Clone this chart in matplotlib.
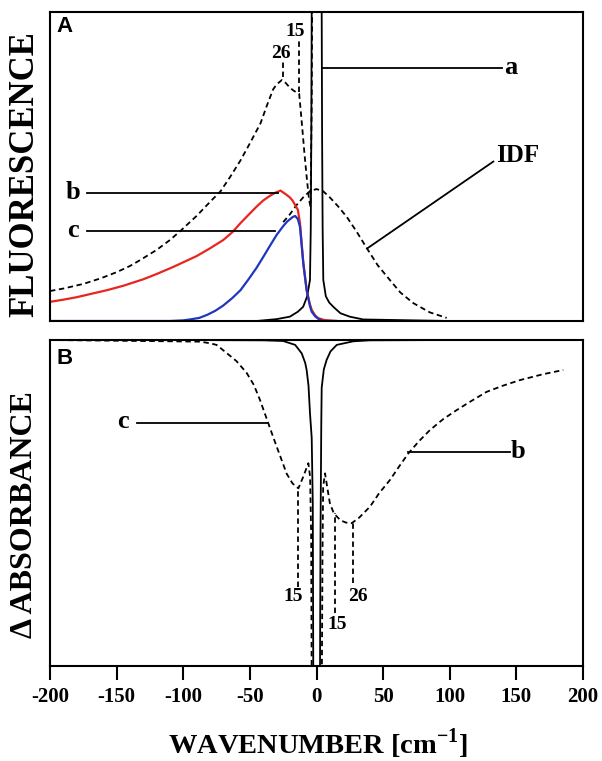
import matplotlib
matplotlib.use("Agg")
import matplotlib.pyplot as plt

plt.rcParams["font.family"] = ["Liberation Serif", "DejaVu Serif"]
plt.rcParams["font.weight"] = "bold"
plt.rcParams["axes.unicode_minus"] = False
plt.rcParams["mathtext.fontset"] = "custom"
plt.rcParams["mathtext.rm"] = "Liberation Serif:bold"
plt.rcParams["mathtext.bf"] = "Liberation Serif:bold"

# ---- panel A: fluorescence (y as fraction of axis height) ----
broad_x = [-200, -190, -182, -175, -162, -150, -140, -132, -120, -110, -102, -90, -80, -72, -65, -57,
           -50, -42, -37, -32.5, -30, -26, -23, -20, -17, -13, -11, -9, -7, -5.5, -4.5, -3.6, -3.0]
broad_y = [0.097, 0.105, 0.113, 0.12, 0.138, 0.158, 0.178, 0.198, 0.23, 0.262, 0.292, 0.34, 0.385, 0.42, 0.465, 0.52,
           0.575, 0.64, 0.70, 0.75, 0.765, 0.78, 0.77, 0.755, 0.745, 0.735, 0.64, 0.54, 0.45, 0.39, 0.37, 0.7, 1.3]

idf_x = [-25, -20, -15, -10, -5, 0, 5, 10, 16, 22.7, 30, 37.7, 46, 55, 63, 72.6, 85, 97.7]
idf_y = [0.32, 0.345, 0.375, 0.40, 0.42, 0.427, 0.42, 0.40, 0.372, 0.337, 0.29, 0.236, 0.18, 0.133, 0.092, 0.058, 0.028, 0.01]

line_a_x = [-45, -30, -20, -14, -10, -7, -4.9, -4.3, -3.9, -3.6, -3.5, 3.8, 3.9, 4.2, 4.6, 5.1, 7, 9.5, 12.6, 18, 25, 35, 100]
line_a_y = [0.0, 0.006, 0.014, 0.03, 0.046, 0.08, 0.133, 0.3, 0.6, 1.0, 1.3, 1.3, 1.0, 0.6, 0.3, 0.133, 0.08, 0.06, 0.046, 0.025, 0.014, 0.005, 0.0]

red_x = [-200, -190, -180, -170, -157, -145, -130, -120, -107.5, -100, -90, -80, -70, -63, -57, -50, -45, -40,
         -35, -31, -27, -23, -20, -18, -16, -14, -12.4, -9.9, -7.4, -5, -3.6, -1, 1.4, 6, 15]
red_y = [0.062, 0.069, 0.077, 0.087, 0.10, 0.114, 0.135, 0.152, 0.175, 0.19, 0.21, 0.235, 0.262, 0.288, 0.317, 0.348, 0.37, 0.39,
         0.405, 0.415, 0.422, 0.41, 0.40, 0.39, 0.375, 0.36, 0.317, 0.187, 0.1, 0.055, 0.036, 0.018, 0.009, 0.003, 0.0]

blue_x = [-200, -110, -100, -95, -88, -82, -76, -70, -63, -57, -51, -45, -40, -35, -30, -25, -22, -18, -16, -14,
          -12.4, -9.9, -7.4, -5, -3.6, -1, 2, 5, 15]
blue_y = [0.0, 0.0, 0.002, 0.005, 0.01, 0.02, 0.033, 0.05, 0.075, 0.1, 0.135, 0.172, 0.207, 0.243, 0.278, 0.307, 0.322, 0.336, 0.34, 0.33,
          0.305, 0.187, 0.1, 0.05, 0.03, 0.015, 0.005, 0.0, 0.0]

# ---- panel B: delta absorbance (y as fraction of axis height, 1 = top) ----
solid_b_x = [-100, -40, -25, -16, -11.1, -8.5, -7.4, -6, -4.9, -3.6, -2.8, -2.4, 2.6, 3.0, 3.6, 3.9, 5.5, 7.6, 10.5, 15.2, 27.6, 40, 100]
solid_b_y = [1.0, 0.999, 0.997, 0.985, 0.959, 0.93, 0.908, 0.86, 0.776, 0.7, 0.5, -0.05, -0.05, 0.4, 0.75, 0.854, 0.91, 0.939, 0.965, 0.985, 0.996, 0.999, 1.0]

dash_c_x = [-200, -87.4, -80, -75, -67.4, -60, -52.4, -47, -42.4, -36.2, -33, -29.9, -26, -22.4, -18, -13.6, -10, -6.1, -4.8, -4.0, -3.6]
dash_c_y = [1.0, 0.995, 0.99, 0.985, 0.96, 0.935, 0.899, 0.862, 0.816, 0.745, 0.708, 0.673, 0.63, 0.59, 0.56, 0.545, 0.58, 0.622, 0.58, 0.4, -0.05]

dash_b_x = [4.0, 4.5, 5.0, 6.4, 8, 10, 13, 18, 22, 26.4, 32, 40.2, 47, 55.2, 62, 68.9, 77, 85.2, 95, 105.2, 115, 127.7, 140, 152.7, 170, 185.2]
dash_b_y = [-0.05, 0.35, 0.55, 0.591, 0.55, 0.50, 0.468, 0.447, 0.44, 0.438, 0.455, 0.489, 0.53, 0.571, 0.612, 0.652, 0.69, 0.724, 0.757, 0.785, 0.81, 0.841, 0.86, 0.877, 0.895, 0.908]

xticks = [-200, -150, -100, -50, 0, 50, 100, 150, 200]

DASH = (0, (3, 2))
LW = 1.3
RED = "#e8251e"
BLUE = "#2036c0"

fig = plt.figure(figsize=(6.02, 7.61), dpi=100)
ax_a = fig.add_axes([50 / 602, 1 - 321 / 761, 533 / 602, 309 / 761])
ax_b = fig.add_axes([50 / 602, 1 - 666 / 761, 533 / 602, 326 / 761])

for ax in (ax_a, ax_b):
    ax.set_xlim(-200, 200)
    ax.set_ylim(0, 1)
    for sp in ax.spines.values():
        sp.set_linewidth(1.5)
    ax.set_yticks([])

# panel A
ax_a.set_xticks([])
ax_a.plot(broad_x, broad_y, color="black", lw=LW, ls=DASH)
ax_a.plot(idf_x, idf_y, color="black", lw=LW, ls=DASH)
ax_a.plot(line_a_x, line_a_y, color="black", lw=LW)
ax_a.plot(red_x, red_y, color=RED, lw=1.6)
ax_a.plot(blue_x, blue_y, color=BLUE, lw=1.6)

# peak markers 26 / 15
ax_a.plot([-25.4, -25.4], [0.79, 0.84], color="black", lw=LW, ls=DASH)
ax_a.plot([-13, -13], [0.742, 0.916], color="black", lw=LW, ls=DASH)
ax_a.text(-26.7, 0.866, "26", ha="center", va="center", fontsize=14, fontweight="bold")
ax_a.text(-16, 0.938, "15", ha="center", va="center", fontsize=14, fontweight="bold")

# labelled leaders
ax_a.plot([3.9, 139], [0.819, 0.819], color="black", lw=LW)
ax_a.text(146, 0.819, "a", ha="center", va="center", fontsize=19, fontweight="bold")
ax_a.plot([-172.5, -29], [0.415, 0.415], color="black", lw=LW)
ax_a.text(-182.7, 0.415, "b", ha="center", va="center", fontsize=19, fontweight="bold")
ax_a.plot([-172.5, -31], [0.292, 0.292], color="black", lw=LW)
ax_a.text(-182.7, 0.292, "c", ha="center", va="center", fontsize=19, fontweight="bold")
ax_a.plot([38.1, 132.7], [0.235, 0.516], color="black", lw=LW)
ax_a.text(150.8, 0.537, "IDF", ha="center", va="center", fontsize=18, fontweight="bold")
ax_a.text(0.028, 0.953, "A", transform=ax_a.transAxes, ha="center", va="center",
          fontsize=16, fontweight="bold", family=["Liberation Sans", "DejaVu Sans"])

# panel B
ax_b.plot(dash_c_x, dash_c_y, color="black", lw=LW, ls=DASH)
ax_b.plot(dash_b_x, dash_b_y, color="black", lw=LW, ls=DASH)
ax_b.plot(solid_b_x, solid_b_y, color="black", lw=LW)

ax_b.plot([-13.6, -13.6], [0.243, 0.545], color="black", lw=LW, ls=DASH)
ax_b.text(-17.6, 0.213, "15", ha="center", va="center", fontsize=14, fontweight="bold")
ax_b.plot([13.9, 13.9], [0.163, 0.468], color="black", lw=LW, ls=DASH)
ax_b.text(15.2, 0.126, "15", ha="center", va="center", fontsize=14, fontweight="bold")
ax_b.plot([27.6, 27.6], [0.254, 0.438], color="black", lw=LW, ls=DASH)
ax_b.text(31, 0.213, "26", ha="center", va="center", fontsize=14, fontweight="bold")

ax_b.plot([-135, -37.4], [0.745, 0.745], color="black", lw=LW)
ax_b.text(-145, 0.749, "c", ha="center", va="center", fontsize=19, fontweight="bold")
ax_b.plot([68.9, 145.3], [0.657, 0.657], color="black", lw=LW)
ax_b.text(151, 0.657, "b", ha="center", va="center", fontsize=19, fontweight="bold")
ax_b.text(0.028, 0.943, "B", transform=ax_b.transAxes, ha="center", va="center",
          fontsize=16, fontweight="bold", family=["Liberation Sans", "DejaVu Sans"])

ax_b.set_xticks(xticks)
ax_b.set_xticklabels([str(t) for t in xticks])
ax_b.tick_params(axis="x", direction="out", length=10, width=1.5, labelsize=15, pad=5)
for lab in ax_b.get_xticklabels():
    lab.set_fontweight("bold")

fig.text(25 / 602, 1 - 174 / 761, "FLUORESCENCE", rotation=90, ha="center", va="center",
         fontsize=25, fontweight="bold")
fig.text(25 / 602, 1 - 515 / 761, "\u0394 ABSORBANCE", rotation=90, ha="center", va="center",
         fontsize=23, fontweight="bold")
fig.text(318 / 602, 1 - 744 / 761, r"WAVENUMBER [cm$^{\mathbf{-1}}$]", ha="center", va="center",
         fontsize=20.5, fontweight="bold")

fig.savefig("out.png", dpi=100)
